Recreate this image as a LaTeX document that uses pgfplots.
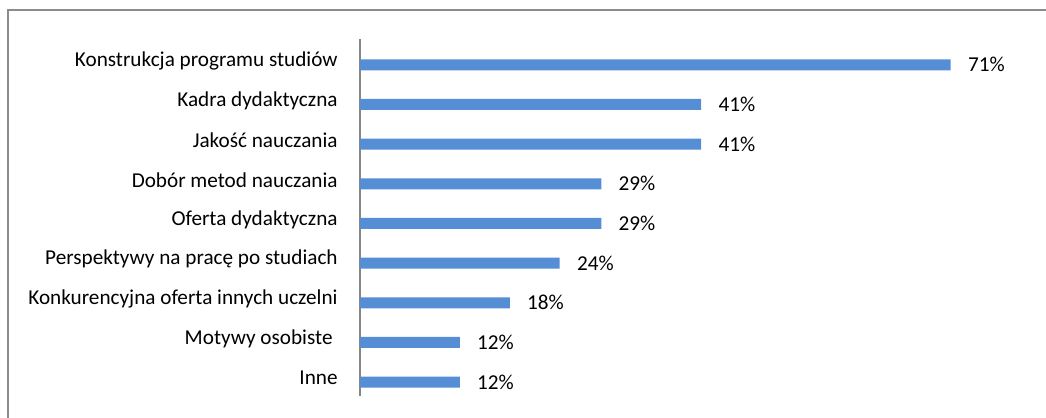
\documentclass[border=0pt]{standalone}
\usepackage{fontspec}
\setmainfont{Carlito}
\usepackage{pgfplots}
\pgfplotsset{compat=1.18}
\definecolor{barblue}{RGB}{85,142,213}
\definecolor{framegray}{RGB}{140,140,140}
\definecolor{axgray}{RGB}{134,134,134}
\begin{document}
\begin{tikzpicture}
\path[use as bounding box] (0,0) rectangle (523pt,209pt);
\draw[framegray, line width=1pt] (4pt,-5pt) -- (4pt,204pt) -- (530pt,204pt);
\begin{axis}[
  at={(180pt,11pt)}, anchor=south west,
  scale only axis,
  width=332.8pt, height=178.5pt,
  xbar, bar width=5.5pt,
  xmin=0, xmax=80,
  ymin=-0.65, ymax=8.35,
  y dir=reverse,
  axis x line=none,
  axis y line*=left,
  y axis line style={axgray, line width=0.9pt, -},
  ytick={0,...,8},
  yticklabels={Konstrukcja programu studiów, Kadra dydaktyczna, Jakość nauczania, Dobór metod nauczania, Oferta dydaktyczna, Perspektywy na pracę po studiach, Konkurencyjna oferta innych uczelni, {Motywy osobiste\kern2.5pt}, Inne},
  major tick length=0pt,
  yticklabel style={font=\fontsize{10.6}{12.7}\selectfont, anchor=east, xshift=-11pt, yshift=2pt, inner sep=0pt},
  /pgf/number format/assume math mode=true,
  nodes near coords={\pgfmathprintnumber{\pgfplotspointmeta}\%},
  point meta=x,
  every node near coord/.append style={font=\fontsize{10.6}{12.7}\selectfont, anchor=west, inner sep=0pt, xshift=8.5pt, text=black},
  clip=false,
]
\addplot[fill=barblue, draw=none] coordinates {
(71,0) (41,1) (41,2) (29,3) (29,4) (24,5) (18,6) (12,7) (12,8)
};
\end{axis}
\end{tikzpicture}
\end{document}
